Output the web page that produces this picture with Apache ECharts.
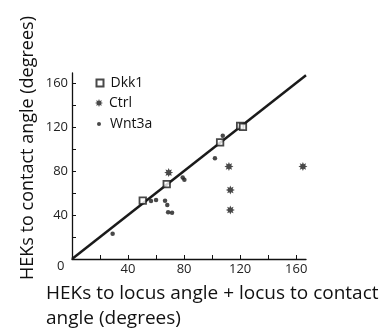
<!DOCTYPE html>
<html>
<head>
<meta charset="utf-8">
<script src="https://cdn.jsdelivr.net/npm/echarts@6/dist/echarts.min.js"></script>
<style>
  html, body { margin: 0; padding: 0; background: #fff; }
  #chart { width: 388px; height: 335px; }
</style>
</head>
<body>
<div id="chart"></div>
<script>
// [x, y] pairs
const dkk1 = [[50.5, 53], [67.6, 68], [105.7, 106], [120, 121], [122, 120]];
const ctrl = [[69, 78.5], [112, 84], [113, 62.7], [113, 44.5], [164.8, 84]];
const wnt3a = [
  [29, 23], [56.4, 52.7], [60, 53.6], [66.4, 53], [68, 49], [68.6, 42.5],
  [71.4, 42], [79, 74], [80.2, 72], [102, 91.5], [107.6, 112]
];
const identity = [[0, 0], [167, 167]];
const tickValues = [0, 20, 40, 60, 80, 100, 120, 140, 160];
const labelValues = [40, 80, 120, 160];

const FONT = "Open Sans";
const INK = "#1a1a1a";
// 8-point star used for the Ctrl markers
const asterisk = "path://M20 10 L15.08 12.1 L17.07 17.07 L12.1 15.08 L10 20 L7.9 15.08 L2.93 17.07 L4.92 12.1 L0 10 L4.92 7.9 L2.93 2.93 L7.9 4.92 L10 0 L12.1 4.92 L17.07 2.93 L15.08 7.9 Z";

const chart = echarts.init(document.getElementById("chart"));

const axisCommon = {
  type: "value",
  min: 0,
  splitLine: { show: false },
  axisLine: { lineStyle: { color: "#111", width: 1.3 } },
  axisTick: { inside: true, length: 4, customValues: tickValues, lineStyle: { color: "#111" } },
  axisLabel: {
    customValues: labelValues,
    color: "#222",
    fontFamily: FONT,
    fontSize: 13,
    margin: 4,
  },
};

// one legend block per series so each icon can have its own size
const legendItem = (name, top, size, padLeft) => ({
  orient: "vertical",
  left: 99 - size / 2,
  top: top,
  padding: 0,
  itemWidth: size,
  itemHeight: size,
  data: [name],
  textStyle: { color: "#111", fontSize: 14, fontFamily: FONT, padding: [0, 0, 0, padLeft] },
});

chart.setOption({
  animation: false,
  textStyle: { fontFamily: FONT },
  grid: { left: 72, right: 82, top: 73, bottom: 76, containLabel: false },
  xAxis: { ...axisCommon, max: 167 },
  yAxis: { ...axisCommon, max: 169 },
  legend: [
    legendItem("Dkk1", 76, 7, 2),
    legendItem("Ctrl", 96, 8, 1),
    legendItem("Wnt3a", 117, 4, 4),
  ],
  graphic: [
    { type: "text", left: 57, top: 260, style: { text: "0", fontSize: 13, fontFamily: FONT, fill: "#222" } },
    {
      type: "text", left: 46, top: 281,
      style: { text: "HEKs to locus angle + locus to contact\nangle (degrees)", fontSize: 19, lineHeight: 25, fontFamily: FONT, fill: "#111" },
    },
    {
      type: "text", x: 37, y: 148, rotation: Math.PI / 2,
      style: { text: "HEKs to contact angle (degrees)", fontSize: 18, fontFamily: FONT, fill: "#111", align: "center", verticalAlign: "bottom" },
    },
  ],
  series: [
    {
      name: "identity",
      type: "line",
      data: identity,
      symbol: "none",
      lineStyle: { color: INK, width: 2.5 },
      z: 1,
    },
    {
      name: "Dkk1",
      type: "scatter",
      data: dkk1,
      symbol: "rect",
      symbolSize: 6.5,
      itemStyle: { color: "#fff", borderColor: INK, borderWidth: 1.8 },
      z: 3,
    },
    {
      name: "Ctrl",
      type: "scatter",
      data: ctrl,
      symbol: asterisk,
      symbolSize: 9,
      itemStyle: { color: INK },
      z: 3,
    },
    {
      name: "Wnt3a",
      type: "scatter",
      data: wnt3a,
      symbol: "circle",
      symbolSize: 4.5,
      itemStyle: { color: INK },
      z: 3,
    },
  ],
});
</script>
</body>
</html>
